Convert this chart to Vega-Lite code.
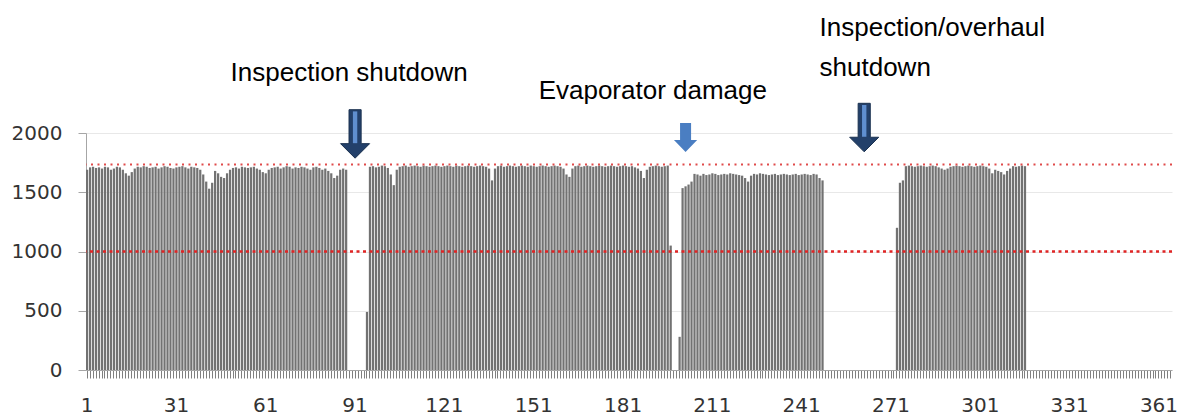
{
  "$schema": "https://vega.github.io/schema/vega-lite/v6.json",
  "width": 1086,
  "height": 237,
  "autosize": {"type": "none"},
  "padding": {"left": 86, "top": 133, "right": 10, "bottom": 47},
  "background": "white",
  "config": {"view": {"stroke": null}},
  "datasets": {
    "daily": [
      {"day":1,"value":1690},{"day":2,"value":1710},{"day":3,"value":1715},{"day":4,"value":1705},{"day":5,"value":1710},
      {"day":6,"value":1700},{"day":7,"value":1715},{"day":8,"value":1710},{"day":9,"value":1690},{"day":10,"value":1700},
      {"day":11,"value":1715},{"day":12,"value":1710},{"day":13,"value":1690},{"day":14,"value":1660},{"day":15,"value":1640},
      {"day":16,"value":1670},{"day":17,"value":1700},{"day":18,"value":1715},{"day":19,"value":1710},{"day":20,"value":1720},
      {"day":21,"value":1715},{"day":22,"value":1705},{"day":23,"value":1710},{"day":24,"value":1715},{"day":25,"value":1700},
      {"day":26,"value":1710},{"day":27,"value":1720},{"day":28,"value":1715},{"day":29,"value":1705},{"day":30,"value":1700},
      {"day":31,"value":1710},{"day":32,"value":1715},{"day":33,"value":1720},{"day":34,"value":1710},{"day":35,"value":1700},
      {"day":36,"value":1715},{"day":37,"value":1710},{"day":38,"value":1705},{"day":39,"value":1690},{"day":40,"value":1650},
      {"day":41,"value":1590},{"day":42,"value":1530},{"day":43,"value":1580},{"day":44,"value":1680},{"day":45,"value":1660},
      {"day":46,"value":1630},{"day":47,"value":1620},{"day":48,"value":1660},{"day":49,"value":1690},{"day":50,"value":1705},
      {"day":51,"value":1710},{"day":52,"value":1700},{"day":53,"value":1715},{"day":54,"value":1710},{"day":55,"value":1705},
      {"day":56,"value":1710},{"day":57,"value":1715},{"day":58,"value":1700},{"day":59,"value":1690},{"day":60,"value":1670},
      {"day":61,"value":1660},{"day":62,"value":1690},{"day":63,"value":1705},{"day":64,"value":1710},{"day":65,"value":1715},
      {"day":66,"value":1700},{"day":67,"value":1710},{"day":68,"value":1720},{"day":69,"value":1715},{"day":70,"value":1700},
      {"day":71,"value":1710},{"day":72,"value":1705},{"day":73,"value":1715},{"day":74,"value":1710},{"day":75,"value":1700},
      {"day":76,"value":1690},{"day":77,"value":1710},{"day":78,"value":1715},{"day":79,"value":1705},{"day":80,"value":1690},
      {"day":81,"value":1700},{"day":82,"value":1680},{"day":83,"value":1660},{"day":84,"value":1620},{"day":85,"value":1640},
      {"day":86,"value":1690},{"day":87,"value":1700},{"day":88,"value":1690},{"day":89,"value":0},{"day":90,"value":0},
      {"day":91,"value":0},{"day":92,"value":0},{"day":93,"value":0},{"day":94,"value":0},{"day":95,"value":490},
      {"day":96,"value":1715},{"day":97,"value":1720},{"day":98,"value":1710},{"day":99,"value":1715},{"day":100,"value":1725},
      {"day":101,"value":1720},{"day":102,"value":1705},{"day":103,"value":1650},{"day":104,"value":1560},{"day":105,"value":1690},
      {"day":106,"value":1715},{"day":107,"value":1720},{"day":108,"value":1725},{"day":109,"value":1715},{"day":110,"value":1720},
      {"day":111,"value":1725},{"day":112,"value":1720},{"day":113,"value":1715},{"day":114,"value":1725},{"day":115,"value":1720},
      {"day":116,"value":1715},{"day":117,"value":1720},{"day":118,"value":1725},{"day":119,"value":1720},{"day":120,"value":1715},
      {"day":121,"value":1720},{"day":122,"value":1725},{"day":123,"value":1720},{"day":124,"value":1715},{"day":125,"value":1725},
      {"day":126,"value":1720},{"day":127,"value":1715},{"day":128,"value":1720},{"day":129,"value":1725},{"day":130,"value":1720},
      {"day":131,"value":1715},{"day":132,"value":1720},{"day":133,"value":1725},{"day":134,"value":1720},{"day":135,"value":1715},
      {"day":136,"value":1700},{"day":137,"value":1600},{"day":138,"value":1700},{"day":139,"value":1720},{"day":140,"value":1725},
      {"day":141,"value":1715},{"day":142,"value":1720},{"day":143,"value":1725},{"day":144,"value":1720},{"day":145,"value":1715},
      {"day":146,"value":1720},{"day":147,"value":1725},{"day":148,"value":1720},{"day":149,"value":1715},{"day":150,"value":1725},
      {"day":151,"value":1720},{"day":152,"value":1715},{"day":153,"value":1720},{"day":154,"value":1725},{"day":155,"value":1720},
      {"day":156,"value":1715},{"day":157,"value":1720},{"day":158,"value":1725},{"day":159,"value":1720},{"day":160,"value":1715},
      {"day":161,"value":1700},{"day":162,"value":1650},{"day":163,"value":1630},{"day":164,"value":1700},{"day":165,"value":1720},
      {"day":166,"value":1725},{"day":167,"value":1715},{"day":168,"value":1720},{"day":169,"value":1725},{"day":170,"value":1720},
      {"day":171,"value":1715},{"day":172,"value":1720},{"day":173,"value":1725},{"day":174,"value":1720},{"day":175,"value":1715},
      {"day":176,"value":1720},{"day":177,"value":1725},{"day":178,"value":1720},{"day":179,"value":1715},{"day":180,"value":1720},
      {"day":181,"value":1725},{"day":182,"value":1720},{"day":183,"value":1715},{"day":184,"value":1720},{"day":185,"value":1710},
      {"day":186,"value":1700},{"day":187,"value":1680},{"day":188,"value":1620},{"day":189,"value":1690},{"day":190,"value":1715},
      {"day":191,"value":1720},{"day":192,"value":1725},{"day":193,"value":1720},{"day":194,"value":1715},{"day":195,"value":1720},
      {"day":196,"value":1725},{"day":197,"value":1050},{"day":198,"value":0},{"day":199,"value":0},{"day":200,"value":280},
      {"day":201,"value":1535},{"day":202,"value":1550},{"day":203,"value":1565},{"day":204,"value":1590},{"day":205,"value":1655},
      {"day":206,"value":1650},{"day":207,"value":1640},{"day":208,"value":1655},{"day":209,"value":1645},{"day":210,"value":1650},
      {"day":211,"value":1660},{"day":212,"value":1655},{"day":213,"value":1645},{"day":214,"value":1650},{"day":215,"value":1655},
      {"day":216,"value":1650},{"day":217,"value":1660},{"day":218,"value":1655},{"day":219,"value":1650},{"day":220,"value":1645},
      {"day":221,"value":1640},{"day":222,"value":1620},{"day":223,"value":1590},{"day":224,"value":1640},{"day":225,"value":1655},
      {"day":226,"value":1650},{"day":227,"value":1660},{"day":228,"value":1655},{"day":229,"value":1650},{"day":230,"value":1645},
      {"day":231,"value":1650},{"day":232,"value":1655},{"day":233,"value":1645},{"day":234,"value":1650},{"day":235,"value":1655},
      {"day":236,"value":1650},{"day":237,"value":1645},{"day":238,"value":1650},{"day":239,"value":1655},{"day":240,"value":1645},
      {"day":241,"value":1650},{"day":242,"value":1655},{"day":243,"value":1650},{"day":244,"value":1645},{"day":245,"value":1655},
      {"day":246,"value":1650},{"day":247,"value":1620},{"day":248,"value":1600},{"day":249,"value":0},{"day":250,"value":0},
      {"day":251,"value":0},{"day":252,"value":0},{"day":253,"value":0},{"day":254,"value":0},{"day":255,"value":0},
      {"day":256,"value":0},{"day":257,"value":0},{"day":258,"value":0},{"day":259,"value":0},{"day":260,"value":0},
      {"day":261,"value":0},{"day":262,"value":0},{"day":263,"value":0},{"day":264,"value":0},{"day":265,"value":0},
      {"day":266,"value":0},{"day":267,"value":0},{"day":268,"value":0},{"day":269,"value":0},{"day":270,"value":0},
      {"day":271,"value":0},{"day":272,"value":0},{"day":273,"value":1200},{"day":274,"value":1580},{"day":275,"value":1600},
      {"day":276,"value":1720},{"day":277,"value":1725},{"day":278,"value":1720},{"day":279,"value":1715},{"day":280,"value":1720},
      {"day":281,"value":1725},{"day":282,"value":1720},{"day":283,"value":1715},{"day":284,"value":1720},{"day":285,"value":1725},
      {"day":286,"value":1720},{"day":287,"value":1710},{"day":288,"value":1700},{"day":289,"value":1690},{"day":290,"value":1700},
      {"day":291,"value":1715},{"day":292,"value":1720},{"day":293,"value":1725},{"day":294,"value":1720},{"day":295,"value":1715},
      {"day":296,"value":1720},{"day":297,"value":1725},{"day":298,"value":1720},{"day":299,"value":1715},{"day":300,"value":1720},
      {"day":301,"value":1725},{"day":302,"value":1720},{"day":303,"value":1715},{"day":304,"value":1700},{"day":305,"value":1660},
      {"day":306,"value":1690},{"day":307,"value":1680},{"day":308,"value":1670},{"day":309,"value":1650},{"day":310,"value":1680},
      {"day":311,"value":1700},{"day":312,"value":1720},{"day":313,"value":1715},{"day":314,"value":1720},{"day":315,"value":1725},
      {"day":316,"value":1720},{"day":317,"value":0},{"day":318,"value":0},{"day":319,"value":0},{"day":320,"value":0},
      {"day":321,"value":0},{"day":322,"value":0},{"day":323,"value":0},{"day":324,"value":0},{"day":325,"value":0},
      {"day":326,"value":0},{"day":327,"value":0},{"day":328,"value":0},{"day":329,"value":0},{"day":330,"value":0},
      {"day":331,"value":0},{"day":332,"value":0},{"day":333,"value":0},{"day":334,"value":0},{"day":335,"value":0},
      {"day":336,"value":0},{"day":337,"value":0},{"day":338,"value":0},{"day":339,"value":0},{"day":340,"value":0},
      {"day":341,"value":0},{"day":342,"value":0},{"day":343,"value":0},{"day":344,"value":0},{"day":345,"value":0},
      {"day":346,"value":0},{"day":347,"value":0},{"day":348,"value":0},{"day":349,"value":0},{"day":350,"value":0},
      {"day":351,"value":0},{"day":352,"value":0},{"day":353,"value":0},{"day":354,"value":0},{"day":355,"value":0},
      {"day":356,"value":0},{"day":357,"value":0},{"day":358,"value":0},{"day":359,"value":0},{"day":360,"value":0},
      {"day":361,"value":0},{"day":362,"value":0},{"day":363,"value":0},{"day":364,"value":0},{"day":365,"value":0}
    ],
    "limits": [{"limit": 1735, "kind": "upper"}, {"limit": 1000, "kind": "lower"}],
    "notesCenter": [
      {"day": 89, "level": 2439, "label": "Inspection shutdown"},
      {"day": 191, "level": 2287, "label": "Evaporator damage"}
    ],
    "notesLeft": [
      {"day": 247, "level": 2819, "label": "Inspection/overhaul"},
      {"day": 247, "level": 2481, "label": "shutdown"}
    ],
    "navyArrows": [
      {"day": 91, "level": 1992, "event": "Inspection shutdown"},
      {"day": 262, "level": 2046, "event": "Inspection/overhaul shutdown"}
    ],
    "blueArrows": [
      {"day": 202, "level": 1962, "event": "Evaporator damage"}
    ]
  },
  "layer": [
    {
      "data": {"name": "daily"},
      "mark": {"type": "bar", "color": "#727272"},
      "encoding": {
        "x": {
          "field": "day", "type": "ordinal", "sort": "ascending",
          "scale": {"paddingInner": 0.25, "paddingOuter": 0},
          "axis": {
            "title": null, "labelAngle": 0, "labelOverlap": false,
            "labelExpr": "(datum.value - 1) % 30 === 0 ? datum.label : ''",
            "tickSize": 8, "tickColor": "#808080", "domainColor": "#a6a6a6",
            "labelPadding": 17, "labelFont": "DejaVu Sans", "labelFontSize": 20, "labelColor": "#333333"
          }
        },
        "y": {
          "field": "value", "type": "quantitative",
          "scale": {"domain": [0, 2000], "nice": false},
          "axis": {
            "title": null, "values": [0, 500, 1000, 1500, 2000], "format": "d",
            "tickSize": 8, "tickColor": "#a6a6a6", "domainColor": "#a6a6a6",
            "grid": true, "gridColor": "#e8e8e8",
            "labelPadding": 16, "labelFont": "DejaVu Sans", "labelFontSize": 20, "labelColor": "#333333"
          }
        }
      }
    },
    {
      "data": {"name": "limits"},
      "transform": [{"filter": "datum.kind === 'upper'"}],
      "mark": {"type": "rule", "color": "#e04a4a", "strokeWidth": 2, "strokeDash": [2, 4.5]},
      "encoding": {"y": {"field": "limit", "type": "quantitative"}}
    },
    {
      "data": {"name": "limits"},
      "transform": [{"filter": "datum.kind === 'lower'"}],
      "mark": {"type": "rule", "color": "#e02424", "strokeWidth": 2.5, "strokeDash": [3, 3.5]},
      "encoding": {"y": {"field": "limit", "type": "quantitative"}}
    },
    {
      "data": {"name": "navyArrows"},
      "mark": {"type": "point", "filled": true, "size": 2352, "opacity": 1, "color": "#23406a", "stroke": "#1b3250", "strokeWidth": 1,
               "shape": "M-0.25,-1L0.25,-1L0.25,0.4L0.6,0.4L0,1L-0.6,0.4L-0.25,0.4Z"},
      "encoding": {
        "x": {"field": "day", "type": "ordinal"},
        "y": {"field": "level", "type": "quantitative"}
      }
    },
    {
      "data": {"name": "navyArrows"},
      "mark": {"type": "point", "filled": true, "size": 2352, "opacity": 1, "color": "#5f8fd0", "strokeWidth": 0,
               "shape": "M-0.09,-0.93L0.09,-0.93L0.09,0.38L-0.09,0.38Z"},
      "encoding": {
        "x": {"field": "day", "type": "ordinal"},
        "y": {"field": "level", "type": "quantitative"}
      }
    },
    {
      "data": {"name": "blueArrows"},
      "mark": {"type": "point", "filled": true, "size": 841, "opacity": 1, "color": "#4a7ec2", "strokeWidth": 0,
               "shape": "M-0.38,-1L0.38,-1L0.38,0.17L0.8,0.17L0,1L-0.8,0.17L-0.38,0.17Z"},
      "encoding": {
        "x": {"field": "day", "type": "ordinal"},
        "y": {"field": "level", "type": "quantitative"}
      }
    },
    {
      "data": {"name": "notesCenter"},
      "mark": {"type": "text", "align": "center", "baseline": "alphabetic", "font": "Liberation Sans", "fontSize": 26, "color": "#000000"},
      "encoding": {
        "x": {"field": "day", "type": "ordinal"},
        "y": {"field": "level", "type": "quantitative"},
        "text": {"field": "label"}
      }
    },
    {
      "data": {"name": "notesLeft"},
      "mark": {"type": "text", "align": "left", "baseline": "alphabetic", "font": "Liberation Sans", "fontSize": 26, "color": "#000000"},
      "encoding": {
        "x": {"field": "day", "type": "ordinal"},
        "y": {"field": "level", "type": "quantitative"},
        "text": {"field": "label"}
      }
    }
  ]
}
